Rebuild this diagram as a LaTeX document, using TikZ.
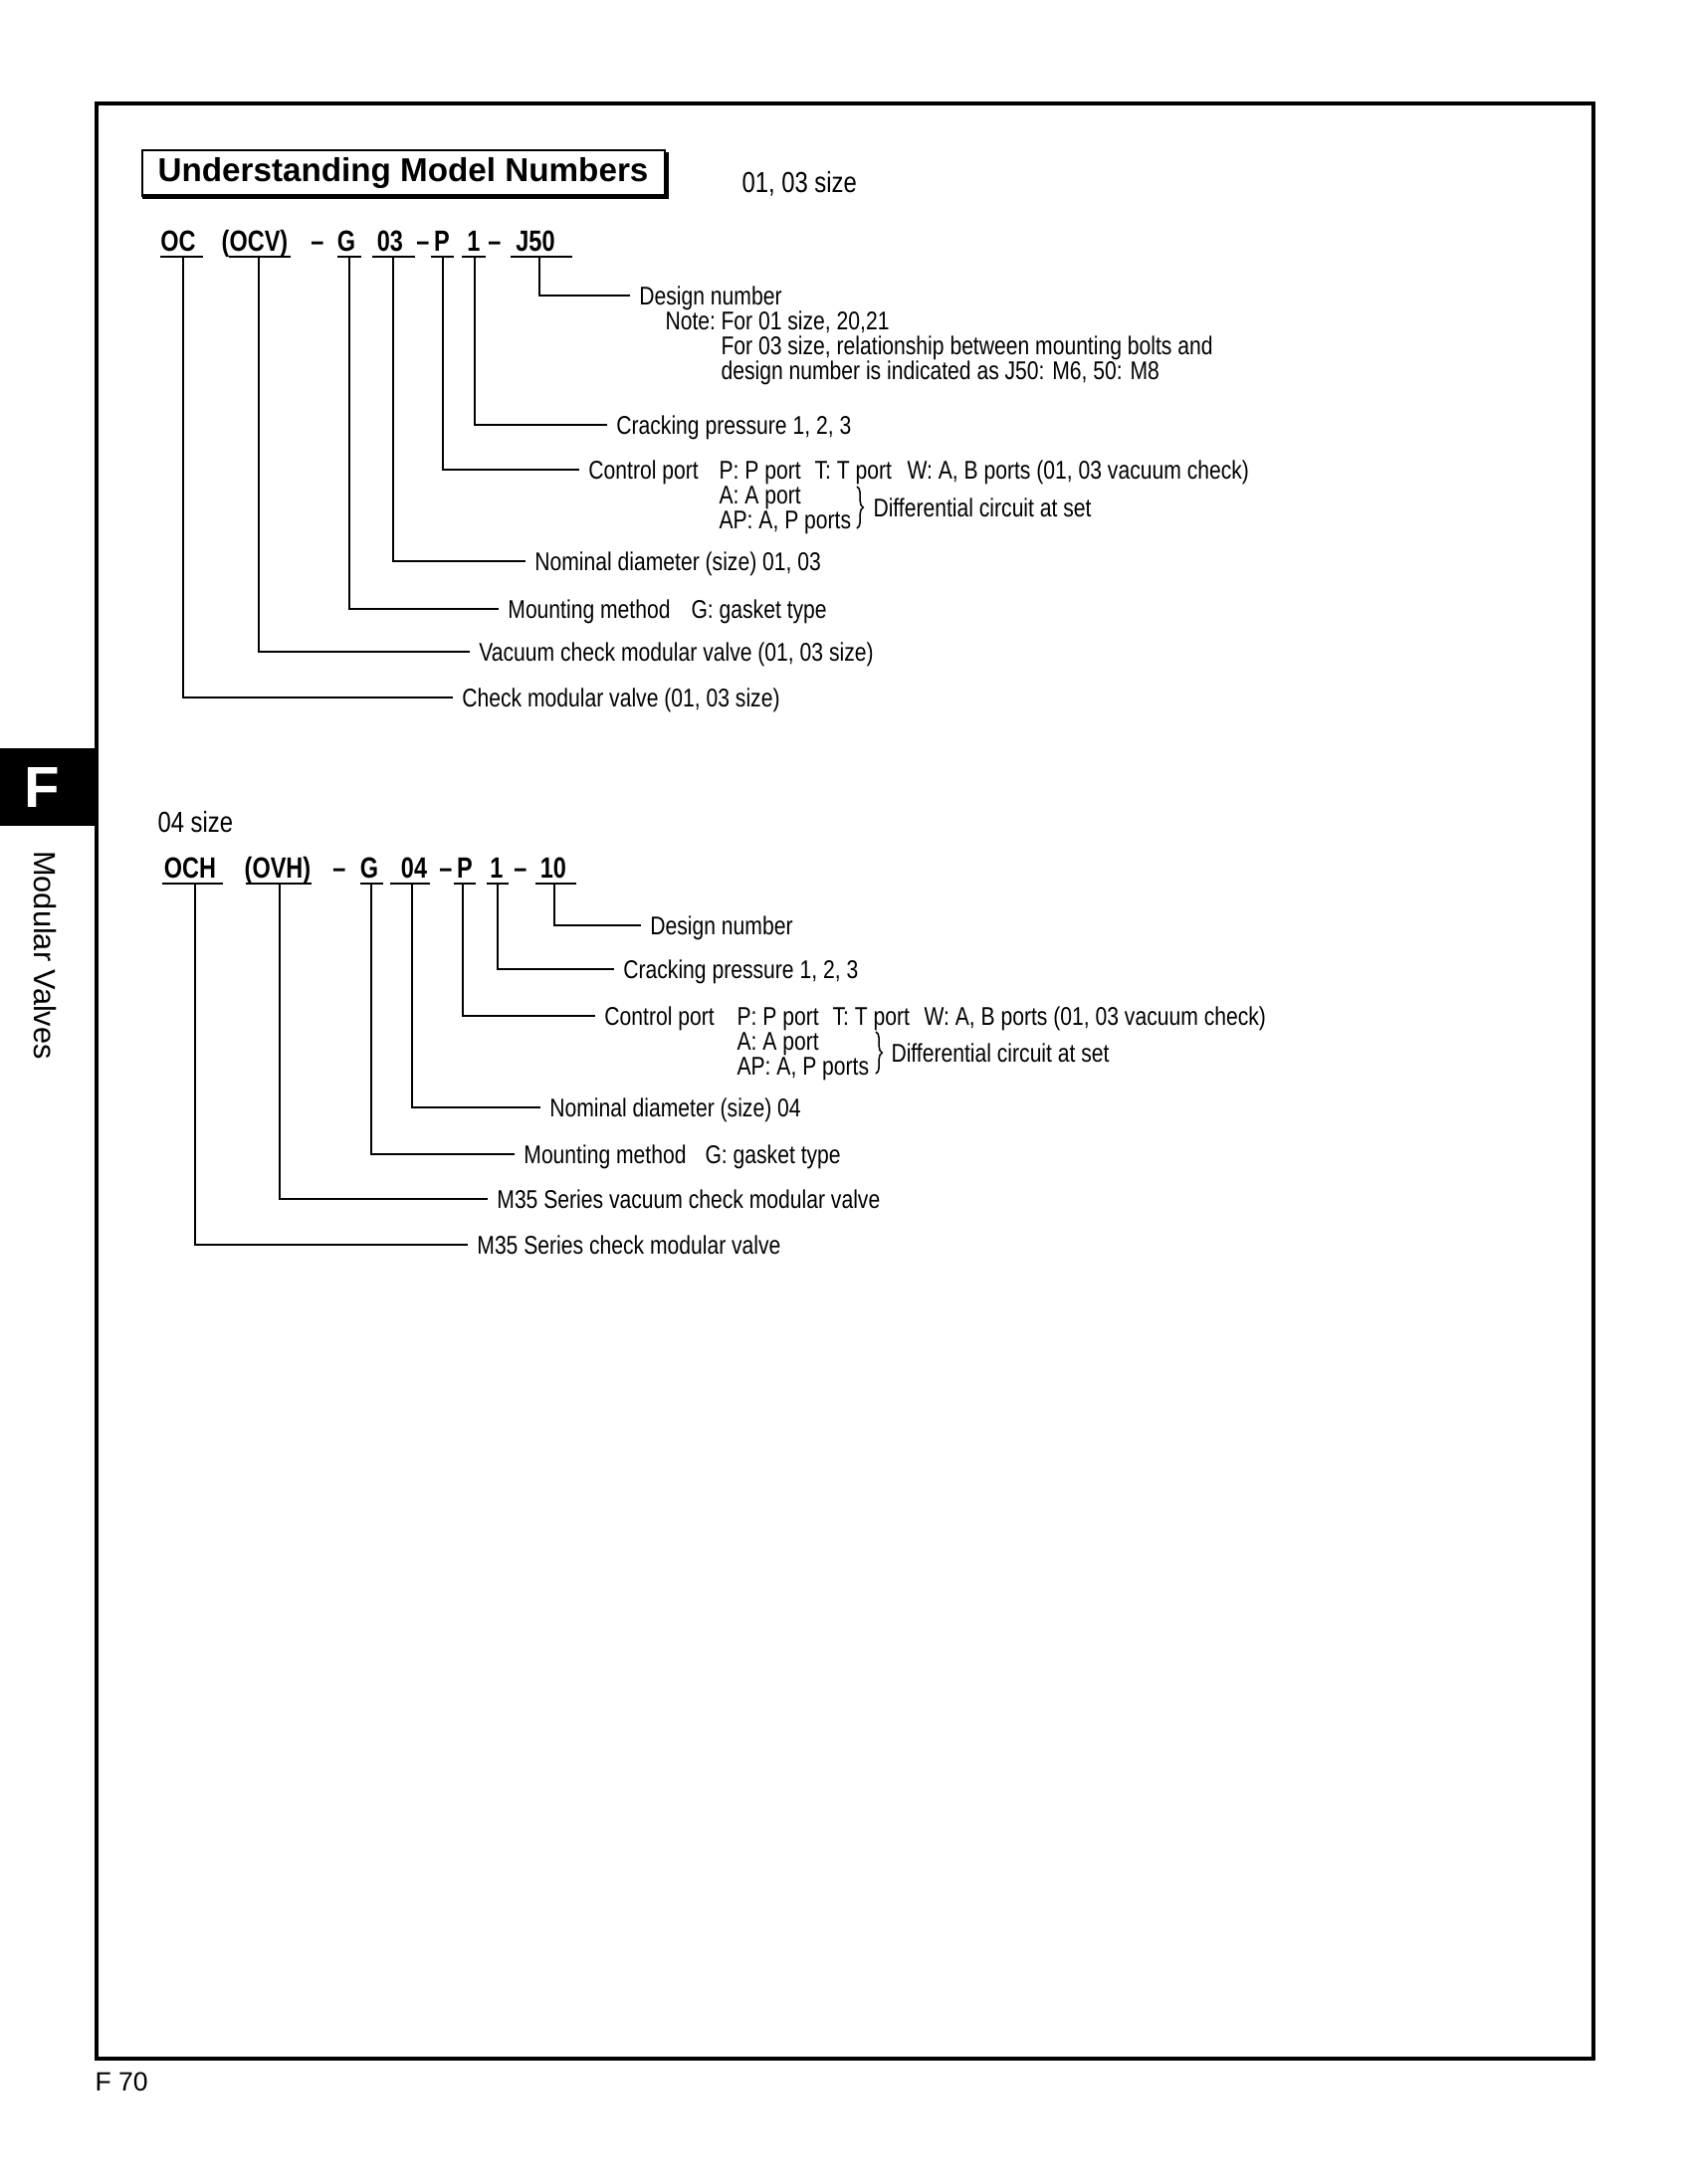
\documentclass[tikz,border=0pt]{standalone}
\usepackage{fontspec}
\setmainfont{Liberation Sans}
\newfontfamily\corps{Liberation Sans}[FakeStretch=0.82]
\newfontfamily\gras{Liberation Sans}[FakeStretch=0.8]
\usetikzlibrary{decorations.pathreplacing}
\tikzset{
  texte/.style={font=\corps\fontsize{9.3}{11}\selectfont, inner sep=0pt, anchor=west, text height=6.7pt, text depth=0pt},
  etiq/.style={texte, inner xsep=3.2pt},
  taille/.style={texte, font=\corps\fontsize{10.5}{12}\selectfont, text height=7.5pt},
  code/.style={font=\gras\bfseries\fontsize{10.6}{12}\selectfont, inner sep=0pt, anchor=base},
  ligne/.style={line width=0.55pt},
  accolade/.style={ligne, decorate, decoration={brace, amplitude=2.3pt}},
}
\begin{document}
\begin{tikzpicture}[x=0.3612pt, y=-0.3612pt]
	\useasboundingbox (0,0) rectangle (1695,2195);
	% onglet
	\fill (0,752) rectangle (97,830);
	\node[text=white, font=\bfseries\fontsize{21}{24}\selectfont] (lettre) at (42,791) {F};
	\node[rotate=-90, font=\fontsize{11.1}{13}\selectfont] (rubrique) at (45,960) {Modular Valves};
	\node[anchor=west, inner sep=0pt, font=\fontsize{9.6}{11}\selectfont, text height=6.9pt, text depth=0pt] (page) at (95,2092) {F 70};
	\draw[line width=1.3pt] (97,104) rectangle (1601,2069);
	% titre
	\fill (143,195) rectangle (672,200);
	\fill (667,153) rectangle (672,200);
	\draw[line width=0.5pt] (143,151) rectangle (668,197);
	\node[font=\bfseries\fontsize{12}{14}\selectfont] (titre) at (405,174) {Understanding Model Numbers};
	\node[taille] (taille1) at (745,183) {01, 03 size};
	% tailles 01, 03
	\foreach \n/\tx/\ua/\ub/\tk/\t in {aoc/179/161/204/184/OC, aocv/256/230/292/260/(OCV), ag/348/339/363/351/G, ad/392/374/417/395/03, ap/444/433/456/445/P, ac/476/464/488/477/1, aj/538/513/575/542/J50}
	{
		\node[code] (\n) at (\tx,252) {\t};
		\draw[ligne] (\ua,258) -- (\ub,258);
		\coordinate (t\n) at (\tk,258);
	}
	\node[code] (atiret1) at (319,252) {–};
	\node[code] (atiret2) at (425,252) {–};
	\node[code] (atiret3) at (497,252) {–};
	\node[etiq] (adesign) at (633,297) {Design number};
	\node[texte] (anote) at (668,322) {Note:};
	\node[texte] (anote1) at (724,322) {For 01 size, 20,21};
	\node[texte] (anote2) at (724,347) {For 03 size, relationship between mounting bolts and};
	\node[texte] (anote3) at (724,372) {design number is indicated as J50: M6, 50: M8};
	\node[etiq] (acrack) at (610,427) {Cracking pressure 1, 2, 3};
	\node[etiq] (actrl) at (582,472) {Control port};
	\node[texte] (aportp) at (722,472) {P: P port};
	\node[texte] (aportt) at (818,472) {T: T port};
	\node[texte] (aportw) at (911,472) {W: A, B ports (01, 03 vacuum check)};
	\node[texte] (aporta) at (722,497) {A: A port};
	\node[texte] (aportap) at (722,522) {AP: A, P ports};
	\draw[accolade] (861,489) -- (861,531);
	\node[texte] (adiff) at (877,510) {Differential circuit at set};
	\node[etiq] (anom) at (528,564) {Nominal diameter (size) 01, 03};
	\node[etiq] (amount) at (501,612) {Mounting method};
	\node[texte] (agask) at (694,612) {G: gasket type};
	\node[etiq] (avac) at (472,655) {Vacuum check modular valve (01, 03 size)};
	\node[etiq] (achk) at (455,701) {Check modular valve (01, 03 size)};
	\foreach \t/\l in {aj/adesign, ac/acrack, ap/actrl, ad/anom, ag/amount, aocv/avac, aoc/achk}
		\draw[ligne] (t\t) |- (\l.west);
	% taille 04
	\node[taille] (taille2) at (158,826) {04 size};
	\foreach \n/\tx/\ua/\ub/\tk/\t in {boch/191/163/224/196/OCH, bovh/279/247/313/281/(OVH), bg/371/362/385/373/G, bd/416/392/432/414/04, bp/467/456/478/465/P, bc/499/489/511/500/1, bj/556/538/579/557/10}
	{
		\node[code] (\n) at (\tx,882) {\t};
		\draw[ligne] (\ua,888) -- (\ub,888);
		\coordinate (t\n) at (\tk,888);
	}
	\node[code] (btiret1) at (341,882) {–};
	\node[code] (btiret2) at (448,882) {–};
	\node[code] (btiret3) at (523,882) {–};
	\node[etiq] (bdesign) at (644,930) {Design number};
	\node[etiq] (bcrack) at (617,974) {Cracking pressure 1, 2, 3};
	\node[etiq] (bctrl) at (598,1021) {Control port};
	\node[texte] (bportp) at (740,1021) {P: P port};
	\node[texte] (bportt) at (836,1021) {T: T port};
	\node[texte] (bportw) at (928,1021) {W: A, B ports (01, 03 vacuum check)};
	\node[texte] (bporta) at (740,1046) {A: A port};
	\node[texte] (bportap) at (740,1071) {AP: A, P ports};
	\draw[accolade] (880,1037) -- (880,1079);
	\node[texte] (bdiff) at (895,1058) {Differential circuit at set};
	\node[etiq] (bnom) at (543,1113) {Nominal diameter (size) 04};
	\node[etiq] (bmount) at (517,1160) {Mounting method};
	\node[texte] (bgask) at (708,1160) {G: gasket type};
	\node[etiq] (bvac) at (490,1205) {M35 Series vacuum check modular valve};
	\node[etiq] (bchk) at (470,1251) {M35 Series check modular valve};
	\foreach \t/\l in {bj/bdesign, bc/bcrack, bp/bctrl, bd/bnom, bg/bmount, bovh/bvac, boch/bchk}
		\draw[ligne] (t\t) |- (\l.west);
\end{tikzpicture}
\end{document}
